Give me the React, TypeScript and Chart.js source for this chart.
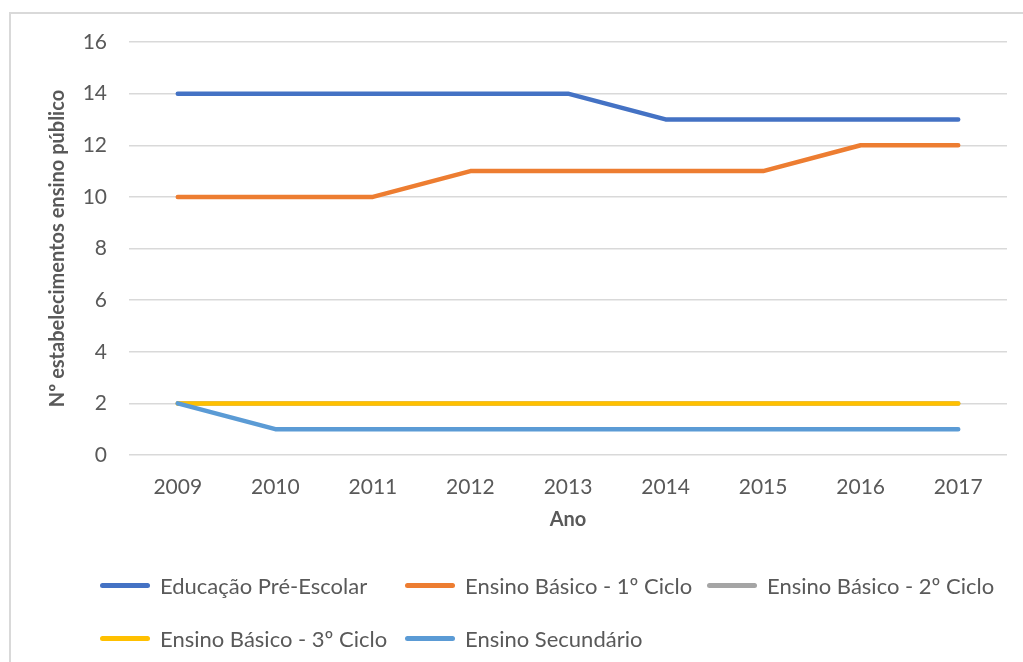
import React, { useEffect, useRef } from "react";
import { Chart, registerables } from "chart.js";

Chart.register(...registerables);

const years = ["2009", "2010", "2011", "2012", "2013", "2014", "2015", "2016", "2017"];
const preEscolar = [14, 14, 14, 14, 14, 13, 13, 13, 13];
const basico1 = [10, 10, 10, 11, 11, 11, 11, 12, 12];
const basico2 = [2, 2, 2, 2, 2, 2, 2, 2, 2];
const basico3 = [2, 2, 2, 2, 2, 2, 2, 2, 2];
const secundario = [2, 1, 1, 1, 1, 1, 1, 1, 1];

const seriesNames = [
  "Educação Pré-Escolar",
  "Ensino Básico - 1º Ciclo",
  "Ensino Básico - 2º Ciclo",
  "Ensino Básico - 3º Ciclo",
  "Ensino Secundário",
];
const seriesData = [preEscolar, basico1, basico2, basico3, secundario];
const seriesColors = ["#4472C4", "#ED7D31", "#A5A5A5", "#FFC000", "#5B9BD5"];

const yTicks = [0, 2, 4, 6, 8, 10, 12, 14, 16];

const FONT = "Lato, 'Open Sans', sans-serif";
const TEXT = "#595959";

const legendPos = [
  { left: 100, top: 585 },
  { left: 405, top: 585 },
  { left: 707, top: 585 },
  { left: 100, top: 638 },
  { left: 405, top: 638 },
];

export default function App() {
  const ref = useRef<HTMLCanvasElement | null>(null);

  useEffect(() => {
    if (!ref.current) return;
    const chart = new Chart(ref.current, {
      type: "line",
      data: {
        labels: years,
        datasets: seriesNames.map((name, i) => ({
          label: name,
          data: seriesData[i],
          borderColor: seriesColors[i],
          backgroundColor: seriesColors[i],
          borderWidth: 4.5,
          pointRadius: 0,
          tension: 0,
          borderCapStyle: "round" as const,
          borderJoinStyle: "round" as const,
          order: seriesNames.length - i,
        })),
      },
      options: {
        animation: false,
        responsive: false,
        layout: { padding: { left: 38, right: 16, top: 42, bottom: 127 } },
        plugins: { legend: { display: false }, tooltip: { enabled: false } },
        scales: {
          x: {
            offset: true,
            grid: { display: false, drawTicks: false },
            border: { display: false },
            ticks: { color: TEXT, font: { family: FONT, size: 21 }, padding: 20, maxRotation: 0 },
            title: {
              display: true,
              text: "Ano",
              color: TEXT,
              font: { family: FONT, size: 20, weight: "bold" },
              padding: { top: 0, bottom: 3 },
            },
            afterFit: (s: any) => {
              s.height = 80;
            },
          },
          y: {
            min: 0,
            max: 16,
            afterBuildTicks: (s: any) => {
              s.ticks = yTicks.map((v) => ({ value: v }));
            },
            grid: { color: "#d9d9d9", lineWidth: 1.5, drawTicks: false },
            border: { display: false },
            ticks: { color: TEXT, font: { family: FONT, size: 21 }, padding: 22 },
            title: {
              display: true,
              text: "Nº estabelecimentos ensino público",
              color: TEXT,
              font: { family: FONT, size: 20, weight: "bold" },
              padding: { top: 8, bottom: 0 },
            },
            afterFit: (s: any) => {
              s.width = 91;
            },
          },
        },
      },
    });
    return () => chart.destroy();
  }, []);

  return (
    <div style={{ position: "fixed", left: 0, top: 0, width: 1023, height: 662, background: "#fff", overflow: "hidden" }}>
      <div
        style={{
          position: "absolute",
          left: 9,
          top: 12,
          width: 1030,
          height: 700,
          borderTop: "2px solid #d9d9d9",
          borderLeft: "2px solid #d9d9d9",
        }}
      />
      <canvas ref={ref} width={1023} height={662} style={{ position: "absolute", left: 0, top: 0 }} />
      {seriesNames.map((name, i) => (
        <div
          key={name}
          style={{
            position: "absolute",
            left: legendPos[i].left,
            top: legendPos[i].top - 15,
            height: 30,
            display: "flex",
            alignItems: "center",
            whiteSpace: "nowrap",
            fontFamily: FONT,
            fontSize: 22,
            color: TEXT,
          }}
        >
          <span
            style={{
              display: "inline-block",
              width: 50,
              height: 5,
              borderRadius: 3,
              background: seriesColors[i],
              marginRight: 10,
            }}
          />
          {name}
        </div>
      ))}
    </div>
  );
}
